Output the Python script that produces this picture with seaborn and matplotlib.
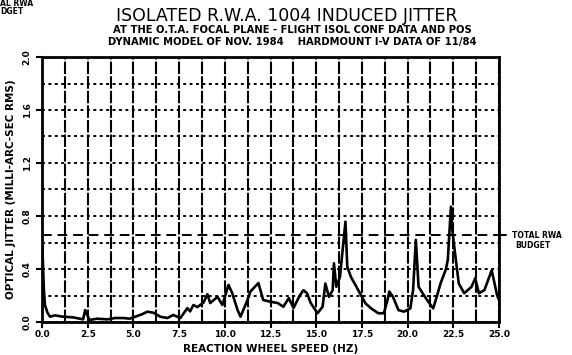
import matplotlib
matplotlib.use("Agg")
import matplotlib.pyplot as plt
import seaborn as sns
import pandas as pd
from matplotlib.ticker import MultipleLocator, FormatStrFormatter

# ---- data ----
speed_hz = [0.0, 0.05, 0.1, 0.16, 0.3, 0.44, 0.71, 1.15, 1.7, 2.25, 2.36, 2.6, 3.0, 3.56, 4.0,
            4.44, 4.8, 5.2, 5.5, 5.76, 6.1, 6.47, 6.85, 7.18, 7.57, 7.95, 8.1, 8.28, 8.5, 8.83,
            9.05, 9.2, 9.6, 9.87, 10.2, 10.4, 10.7, 10.86, 11.24, 11.4, 11.84, 12.1, 12.5, 12.9,
            13.2, 13.5, 13.76, 14.1, 14.3, 14.5, 14.7, 15.07, 15.35, 15.5, 15.7, 15.9, 15.97,
            16.1, 16.3, 16.6, 16.7, 16.9, 17.2, 17.3, 17.5, 17.7, 18.0, 18.4, 18.7, 18.9, 19.0,
            19.2, 19.5, 19.8, 20.15, 20.3, 20.45, 20.6, 20.9, 21.2, 21.4, 21.65, 21.8, 22.1,
            22.2, 22.37, 22.45, 22.55, 22.8, 23.1, 23.5, 23.7, 23.9, 24.2, 24.6, 24.9, 25.0]
jitter_mas = [0.62, 0.45, 0.25, 0.128, 0.07, 0.04, 0.05, 0.04, 0.035, 0.02, 0.09, 0.015, 0.025,
              0.02, 0.03, 0.03, 0.025, 0.045, 0.06, 0.078, 0.07, 0.04, 0.03, 0.053, 0.03, 0.105,
              0.08, 0.128, 0.113, 0.146, 0.21, 0.143, 0.19, 0.128, 0.28, 0.22, 0.09, 0.04, 0.166,
              0.23, 0.294, 0.166, 0.153, 0.143, 0.115, 0.18, 0.106, 0.2, 0.24, 0.217, 0.143,
              0.066, 0.115, 0.29, 0.19, 0.24, 0.443, 0.266, 0.34, 0.757, 0.417, 0.34, 0.266,
              0.24, 0.19, 0.14, 0.103, 0.066, 0.066, 0.166, 0.23, 0.19, 0.09, 0.078, 0.103,
              0.24, 0.62, 0.266, 0.2, 0.14, 0.103, 0.217, 0.29, 0.4, 0.47, 0.87, 0.69, 0.57,
              0.29, 0.217, 0.266, 0.33, 0.217, 0.24, 0.39, 0.2, 0.166]
budget_mas = 0.66
x_ticks = [0.0, 2.5, 5.0, 7.5, 10.0, 12.5, 15.0, 17.5, 20.0, 22.5, 25.0]
y_ticks = [0.0, 0.4, 0.8, 1.2, 1.6, 2.0]

title = "ISOLATED R.W.A. 1004 INDUCED JITTER"
subtitle1 = "AT THE O.T.A. FOCAL PLANE - FLIGHT ISOL CONF DATA AND POS"
subtitle2 = "DYNAMIC MODEL OF NOV. 1984    HARDMOUNT I-V DATA OF 11/84"
xlabel = "REACTION WHEEL SPEED (HZ)"
ylabel = "OPTICAL JITTER (MILLI-ARC-SEC RMS)"

df = pd.DataFrame({"speed": speed_hz, "jitter": jitter_mas})

sns.set_theme(style="white")
plt.rcParams["font.family"] = ["DejaVu Sans"]
plt.rcParams["text.color"] = "black"
plt.rcParams["axes.labelcolor"] = "black"
plt.rcParams["xtick.color"] = "black"
plt.rcParams["ytick.color"] = "black"

W, H = 572, 355
fig = plt.figure(figsize=(W / 100, H / 100), dpi=100)
ax = fig.add_axes([42 / W, 1 - 322 / H, (499 - 42) / W, (322 - 57) / H])

ax.set_xlim(0, 25)
ax.set_ylim(0, 2.0)
ax.set_xticks(x_ticks)
ax.set_yticks(y_ticks)
ax.xaxis.set_minor_locator(MultipleLocator(1.25))
ax.yaxis.set_minor_locator(MultipleLocator(0.2))
ax.xaxis.set_major_formatter(FormatStrFormatter("%.1f"))
ax.yaxis.set_major_formatter(FormatStrFormatter("%.1f"))

ax.grid(True, which="both", axis="x", color="black", linewidth=1.5, linestyle=(0, (6, 1)))
ax.grid(True, which="both", axis="y", color="black", linewidth=1.4, linestyle=(0, (1.5, 1.8)))
ax.set_axisbelow(True)

ax.axhline(budget_mas, color="black", linewidth=1.4, linestyle=(0, (5, 3)))
ax.plot([25, 25.4], [budget_mas, budget_mas], color="black", linewidth=1.4, clip_on=False)

sns.lineplot(data=df, x="speed", y="jitter", ax=ax, color="black", linewidth=1.9)

for s in ax.spines.values():
    s.set_color("black")
    s.set_linewidth(2.0)
    s.set_visible(True)

ax.tick_params(axis="both", which="major", direction="out", length=4, width=1.5,
               colors="black", bottom=True, left=True, labelsize=6.5)
ax.tick_params(axis="x", which="major", pad=2)
for lab in ax.get_xticklabels():
    lab.set_fontweight("bold")
for lab in ax.get_yticklabels():
    lab.set_fontweight("bold")
    lab.set_rotation(90)
    lab.set_va("center")

ax.set_xlabel(xlabel, fontsize=7.5, fontweight="bold", labelpad=3, color="black")
ax.set_ylabel(ylabel, fontsize=7.5, fontweight="bold", labelpad=5, color="black")

fig.text(287 / W, 1 - 16 / H, title, ha="center", va="center", fontsize=12.5, color="black")
fig.text(292 / W, 1 - 30 / H, subtitle1, ha="center", va="center", fontsize=7.2,
         fontweight="bold", color="black")
fig.text(292 / W, 1 - 42 / H, subtitle2, ha="center", va="center", fontsize=7.2,
         fontweight="bold", color="black")

fig.text(512 / W, 1 - 235 / H, "TOTAL RWA", ha="left", va="center", fontsize=5.5,
         fontweight="bold", color="black")
fig.text(515 / W, 1 - 245 / H, "BUDGET", ha="left", va="center", fontsize=5.5,
         fontweight="bold", color="black")
fig.text(0 / W, 1 - 4 / H, "AL RWA", ha="left", va="center", fontsize=5.5,
         fontweight="bold", color="black")
fig.text(0 / W, 1 - 12 / H, "DGET", ha="left", va="center", fontsize=5.5,
         fontweight="bold", color="black")

fig.savefig("out.png", dpi=100, facecolor="white")
